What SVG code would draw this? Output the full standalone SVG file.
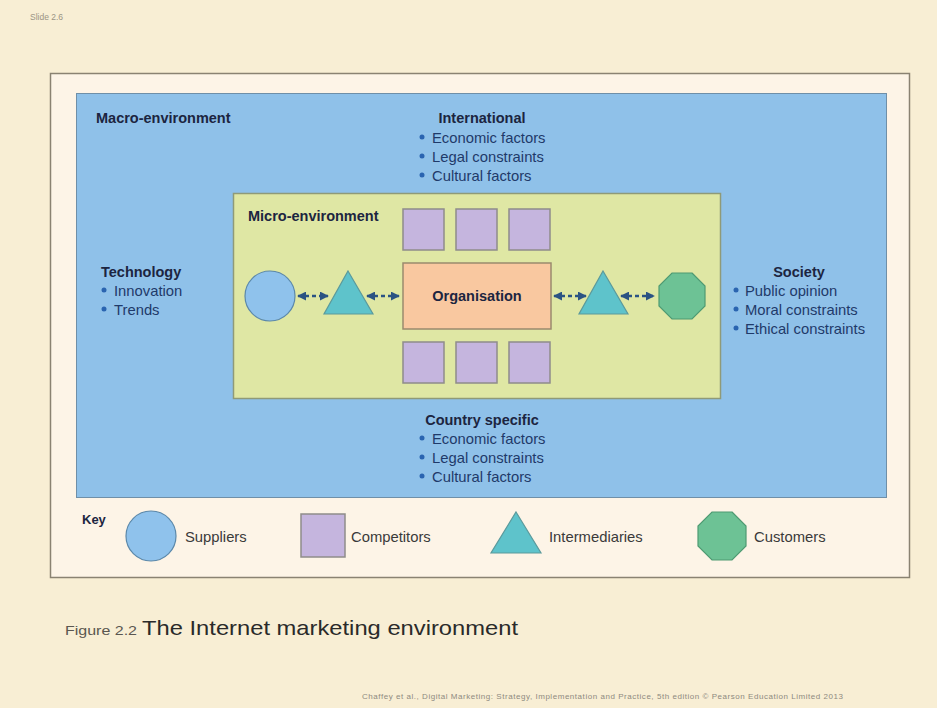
<svg xmlns="http://www.w3.org/2000/svg" width="937" height="708" viewBox="0 0 937 708">
<defs>
<marker id="ah" viewBox="0 0 10 10" refX="9" refY="5" markerWidth="3.6" markerHeight="3.6" orient="auto-start-reverse" markerUnits="strokeWidth">
<path d="M0,0 L10,5 L0,10 Z" fill="#2b5383"/>
</marker>
</defs>
<style>
.t{font-family:"Liberation Sans",Arial,sans-serif;fill:#1c2540}
.b{font-weight:bold;font-size:14.5px}
.r{font-size:14.8px;fill:#1f3a6a}
.k{font-size:14.8px;fill:#3a3a3a}
.sq{fill:#c5b5de;stroke:#8f8c8a;stroke-width:1.5}
.tri{fill:#5ec3cb;stroke:#5b9a9c;stroke-width:1.2}
.cir{fill:#8fc2ec;stroke:#5b88aa;stroke-width:1.2}
.oct{fill:#6dc295;stroke:#4f9a72;stroke-width:1.2}
.con{stroke:#2b5383;stroke-width:2.5;stroke-dasharray:4 3;fill:none;marker-start:url(#ah);marker-end:url(#ah)}
.dot{fill:#2a64b0}
</style>
<rect x="0" y="0" width="937" height="708" fill="#f8eed4"/>
<text x="30" y="20" style="font-family:'Liberation Sans',Arial,sans-serif;font-size:8.5px;fill:#9a9484">Slide 2.6</text>

<g id="frame">
<rect x="50.5" y="73.5" width="859" height="504" fill="#fdf4e7" stroke="#8a8272" stroke-width="1.5"/>
</g>

<g id="macro">
<rect x="76.5" y="93.5" width="810" height="404" fill="#8fc1e9" stroke="#6f8fa8" stroke-width="1"/>
<text class="t b" x="96" y="123">Macro-environment</text>
</g>

<g id="international">
<text class="t b" x="482" y="123" text-anchor="middle">International</text>
<circle class="dot" cx="422" cy="137" r="2.5"/><text class="t r" x="432" y="142.5">Economic factors</text>
<circle class="dot" cx="422" cy="156" r="2.5"/><text class="t r" x="432" y="161.5">Legal constraints</text>
<circle class="dot" cx="422" cy="175" r="2.5"/><text class="t r" x="432" y="180.5">Cultural factors</text>
</g>

<g id="technology">
<text class="t b" x="101" y="277">Technology</text>
<circle class="dot" cx="104" cy="290" r="2.5"/><text class="t r" x="114" y="295.5">Innovation</text>
<circle class="dot" cx="104" cy="309" r="2.5"/><text class="t r" x="114" y="314.5">Trends</text>
</g>

<g id="society">
<text class="t b" x="799" y="277" text-anchor="middle">Society</text>
<circle class="dot" cx="736" cy="290" r="2.5"/><text class="t r" x="745" y="295.5">Public opinion</text>
<circle class="dot" cx="736" cy="309" r="2.5"/><text class="t r" x="745" y="314.5">Moral constraints</text>
<circle class="dot" cx="736" cy="328" r="2.5"/><text class="t r" x="745" y="333.5">Ethical constraints</text>
</g>

<g id="country">
<text class="t b" x="482" y="425" text-anchor="middle">Country specific</text>
<circle class="dot" cx="422" cy="438" r="2.5"/><text class="t r" x="432" y="443.5">Economic factors</text>
<circle class="dot" cx="422" cy="457" r="2.5"/><text class="t r" x="432" y="462.5">Legal constraints</text>
<circle class="dot" cx="422" cy="476" r="2.5"/><text class="t r" x="432" y="481.5">Cultural factors</text>
</g>

<g id="micro">
<rect x="233.5" y="193.5" width="487" height="205" fill="#dfe7a4" stroke="#8f9a78" stroke-width="1.5"/>
<text class="t b" x="248" y="221">Micro-environment</text>
</g>

<g id="competitors-top">
<rect class="sq" x="403" y="209" width="41" height="41"/>
<rect class="sq" x="456" y="209" width="41" height="41"/>
<rect class="sq" x="509" y="209" width="41" height="41"/>
</g>
<g id="competitors-bottom">
<rect class="sq" x="403" y="342" width="41" height="41"/>
<rect class="sq" x="456" y="342" width="41" height="41"/>
<rect class="sq" x="509" y="342" width="41" height="41"/>
</g>

<g id="organisation">
<rect x="403" y="263" width="148" height="66" fill="#f9c8a0" stroke="#9a8a6e" stroke-width="1.5"/>
<text class="t b" x="477" y="301" text-anchor="middle">Organisation</text>
</g>

<g id="supplier">
<circle class="cir" cx="270" cy="296" r="25"/>
</g>
<g id="intermediary-left">
<polygon class="tri" points="348,271 373,314 324,314"/>
</g>
<g id="intermediary-right">
<polygon class="tri" points="603,271 628,314 579,314"/>
</g>
<g id="customer">
<polygon class="oct" points="692,273 705,286 705,306 692,319 672,319 659,306 659,286 672,273"/>
</g>

<g id="connectors">
<line class="con" x1="298" y1="296" x2="328" y2="296"/>
<line class="con" x1="367" y1="296" x2="399" y2="296"/>
<line class="con" x1="554" y1="296" x2="586" y2="296"/>
<line class="con" x1="621" y1="296" x2="654" y2="296"/>
</g>

<g id="key">
<text class="t b" x="82" y="524" style="font-size:13px">Key</text>
<circle class="cir" cx="151" cy="536" r="25"/>
<text class="t k" x="185" y="542">Suppliers</text>
<rect class="sq" x="301" y="514" width="44" height="43"/>
<text class="t k" x="351" y="542">Competitors</text>
<polygon class="tri" points="516,512 541,553 491,553"/>
<text class="t k" x="549" y="542">Intermediaries</text>
<polygon class="oct" points="732,512 746,526 746,546 732,560 712,560 698,546 698,526 712,512"/>
<text class="t k" x="754" y="542">Customers</text>
</g>

<g id="caption">
<text x="65" y="635" textLength="72" lengthAdjust="spacingAndGlyphs" style="font-family:'Liberation Sans',Arial,sans-serif;font-size:13px;fill:#5a5650">Figure 2.2</text>
<text x="142" y="635" textLength="376" lengthAdjust="spacingAndGlyphs" style="font-family:'Liberation Sans',Arial,sans-serif;font-size:21px;fill:#2a2a2a">The Internet marketing environment</text>
<text x="362" y="699" textLength="481" style="font-family:'Liberation Sans',Arial,sans-serif;font-size:8px;fill:#8e8a80">Chaffey et al., Digital Marketing: Strategy, Implementation and Practice, 5th edition © Pearson Education Limited 2013</text>
</g>
</svg>
